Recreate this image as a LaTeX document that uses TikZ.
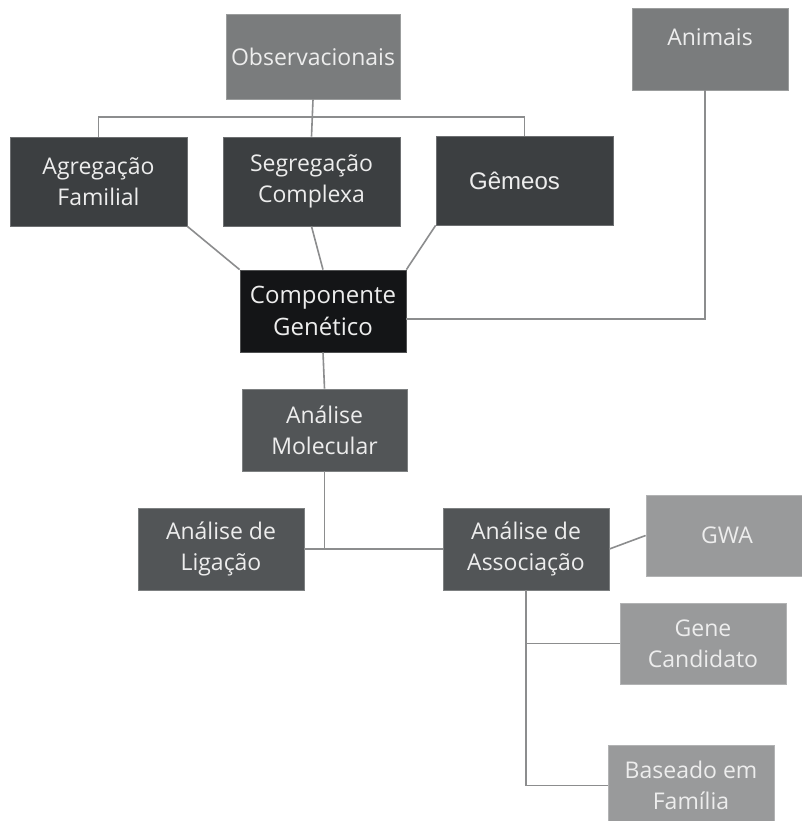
\documentclass[tikz,border=0pt]{standalone}
\usepackage{fontspec}
\setmainfont{Open Sans}
\newfontfamily\gemfont{Liberation Sans}
\usepackage{tikz}
\usetikzlibrary{positioning}
\definecolor{cinzaA}{HTML}{7A7C7D}
\definecolor{cinzaB}{HTML}{3C3F41}
\definecolor{cinzaC}{HTML}{141517}
\definecolor{cinzaD}{HTML}{525557}
\definecolor{cinzaE}{HTML}{999A9B}
\definecolor{textoE}{HTML}{EDEDED}
\definecolor{linha}{HTML}{8C8D8E}

\begin{document}
\begin{tikzpicture}[x=1pt, y=-1pt,
		caixa/.style={rectangle, draw=#1!75!white, fill=#1, line width=0.8pt, text=textoE, align=center,
			minimum width=166pt, minimum height=82pt, inner sep=2pt,
			font=\fontsize{23}{31}\selectfont},
		liga/.style={draw=linha, line width=1.6pt}]
			\useasboundingbox [fill=white] (0,0) rectangle (802,821);
			% topo
			\node [caixa=cinzaA, minimum width=174pt, minimum height=85pt] (obs) at (313,56.5) {Observacionais};
			\node [caixa=cinzaA, minimum width=156pt] (ani) at (710,49) {};
			\node [text=textoE, font=\fontsize{23}{31}\selectfont] (anitxt) at ([yshift=-30pt]ani.north) {Animais};
			% estudos observacionais
			\node [caixa=cinzaB, minimum width=177pt, minimum height=89pt] (agr) at (98.5,181.5) {Agrega\c{c}\~ao\\Familial};
			\node [caixa=cinzaB, minimum width=177pt, minimum height=89pt] (seg) at (311.5,181.5) {Segrega\c{c}\~ao\\Complexa};
			\node [caixa=cinzaB, minimum width=177pt, minimum height=89pt] (gem) at (524.5,180.5) {};
			\node [text=textoE, font=\gemfont\fontsize{24}{30}\selectfont] (gemtxt) at ([xshift=-10pt]gem.center) {G\^emeos};
			% centro
			\node [caixa=cinzaC, font=\fontsize{24}{32}\selectfont] (comp) at (323,311) {Componente\\Gen\'etico};
			\node [caixa=cinzaD, minimum width=165pt] (mol) at (324.5,430) {An\'alise\\Molecular};
			\node [caixa=cinzaD] (lig) at (221,549) {An\'alise de\\Liga\c{c}\~ao};
			\node [caixa=cinzaD] (assoc) at (526,549) {An\'alise de\\Associa\c{c}\~ao};
			% tipos de associacao
			\node [caixa=cinzaE, minimum width=162pt, minimum height=81pt] (gwa) at (727,535.5) {GWA};
			\node [caixa=cinzaE, minimum height=81pt] (gene) at (703,643.5) {Gene\\Candidato};
			\node [caixa=cinzaE, minimum height=81pt] (bas) at (691,785.5) {Baseado em\\Fam\'ilia};
			% ligacoes
			\coordinate (barra) at (313,117); % barra horizontal
			\draw [liga] (agr.north) |- (barra) -| (gem.north);
			\draw [liga] (obs.south) -- (seg.north);
			\draw [liga] (agr.south east) -- (comp.north west);
			\draw [liga] (seg.south) -- (comp.north);
			\draw [liga] (gem.south west) -- (comp.north east);
			\draw [liga] ([yshift=-8pt]comp.east) -| ([xshift=-5pt]ani.south); % animais
			\draw [liga] (comp.south) -- (mol.north);
			\draw [liga] (lig.east) -- (assoc.west);
			\draw [liga] (mol.south) -- (mol.south |- lig.east);
			\draw [liga] (assoc.east) -- (gwa.west);
			\draw [liga] (assoc.south) |- (bas.west);
			\draw [liga] (assoc.south |- gene.west) -- (gene.west);
		\end{tikzpicture}
\end{document}
